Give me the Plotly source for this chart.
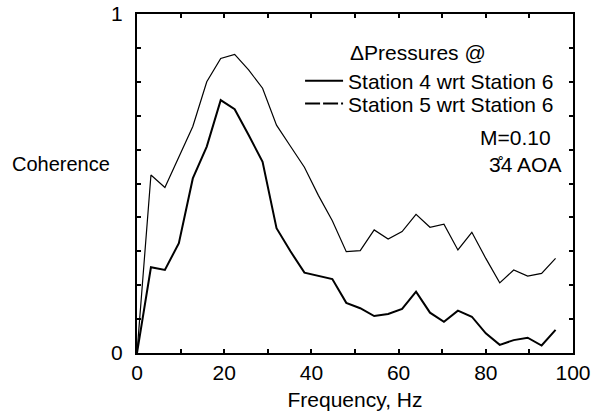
import plotly.graph_objects as go

freq = [0.0, 3.2, 6.4, 9.6, 12.8, 16.0, 19.2, 22.4, 25.6, 28.8, 32.0, 35.2, 38.4, 41.6, 44.8,
        48.0, 51.2, 54.4, 57.6, 60.8, 64.0, 67.2, 70.4, 73.6, 76.8, 80.0, 83.2, 86.4, 89.6,
        92.8, 96.0]

st4_wrt_st6 = [0.0, 0.253, 0.245, 0.324, 0.515, 0.609, 0.746, 0.719, 0.643, 0.564, 0.368,
               0.300, 0.237, 0.227, 0.218, 0.148, 0.132, 0.109, 0.115, 0.130, 0.181, 0.119,
               0.092, 0.125, 0.107, 0.058, 0.024, 0.038, 0.045, 0.022, 0.068]

st5_wrt_st6 = [0.0, 0.525, 0.488, 0.579, 0.668, 0.800, 0.869, 0.881, 0.835, 0.781, 0.672,
               0.610, 0.548, 0.465, 0.390, 0.299, 0.302, 0.363, 0.336, 0.358, 0.409, 0.371,
               0.380, 0.304, 0.356, 0.279, 0.207, 0.245, 0.227, 0.235, 0.279]

x_tickvals = [0, 10, 20, 30, 40, 50, 60, 70, 80, 90, 100]
x_ticktext = ["0", "", "20", "", "40", "", "60", "", "80", "", "100"]
y_tickvals = [0, 0.1, 0.2, 0.3, 0.4, 0.5, 0.6, 0.7, 0.8, 0.9, 1.0]
y_ticktext = ["0", "", "", "", "", "", "", "", "", "", "1"]

FONT = "Liberation Sans, Arial, Helvetica, sans-serif"
TXT = 21

fig = go.Figure()
fig.add_trace(go.Scatter(x=freq, y=st5_wrt_st6, mode="lines", showlegend=False,
                         line=dict(color="black", width=1.2)))
fig.add_trace(go.Scatter(x=freq, y=st4_wrt_st6, mode="lines", showlegend=False,
                         line=dict(color="black", width=2)))
# legend entries
fig.add_trace(go.Scatter(x=[None], y=[None], mode="lines", name="Station 4 wrt Station 6",
                         legend="legend", line=dict(color="black", width=2)))
fig.add_trace(go.Scatter(x=[None], y=[None], mode="lines", name="Station 5 wrt Station 6",
                         legend="legend2",
                         line=dict(color="black", width=2, dash="15px,3px")))

axis_common = dict(showgrid=False, zeroline=False, showline=True, linecolor="black",
                   linewidth=2, ticks="inside", ticklen=4, tickwidth=1.5, tickcolor="black",
                   mirror="ticks", automargin=False,
                   tickfont=dict(family=FONT, size=21, color="black"))

fig.update_xaxes(range=[0, 100], tickmode="array", tickvals=x_tickvals, ticktext=x_ticktext,
                 ticklabelstandoff=0,
                 title=dict(text="Frequency, Hz", font=dict(family=FONT, size=21, color="black"),
                            standoff=9),
                 **axis_common)
fig.update_yaxes(range=[0, 1], tickmode="array", tickvals=y_tickvals, ticktext=y_ticktext,
                 ticklabelstandoff=8, **axis_common)

leg_common = dict(xanchor="left", yanchor="middle", bgcolor="rgba(0,0,0,0)", borderwidth=0,
                  font=dict(family=FONT, size=TXT, color="black"), itemwidth=38)

fig.update_layout(
    width=598, height=414,
    margin=dict(l=137, r=25, t=14, b=61, autoexpand=False),
    paper_bgcolor="white", plot_bgcolor="white",
    font=dict(family=FONT, color="black"),
    legend=dict(x=0.374, y=0.802, **leg_common),
    legend2=dict(x=0.374, y=0.735, **leg_common),
    annotations=[
        dict(text="ΔPressures @", x=0.644, y=0.885, xref="paper", yref="paper",
             xanchor="center", yanchor="middle", showarrow=False,
             font=dict(family=FONT, size=TXT, color="black")),
        dict(text="Coherence", x=-0.174, y=0.558, xref="paper", yref="paper",
             xanchor="center", yanchor="middle", showarrow=False,
             font=dict(family=FONT, size=20, color="black")),
        dict(text="M=0.10", x=0.955, y=0.637, xref="paper", yref="paper",
             xanchor="right", yanchor="middle", showarrow=False,
             font=dict(family=FONT, size=TXT, color="black")),
        dict(text="3\u030a4 AOA", x=0.978, y=0.555, xref="paper", yref="paper",
             xanchor="right", yanchor="middle", showarrow=False,
             font=dict(family=FONT, size=TXT, color="black")),
    ],
)

fig.write_html("out.html")
